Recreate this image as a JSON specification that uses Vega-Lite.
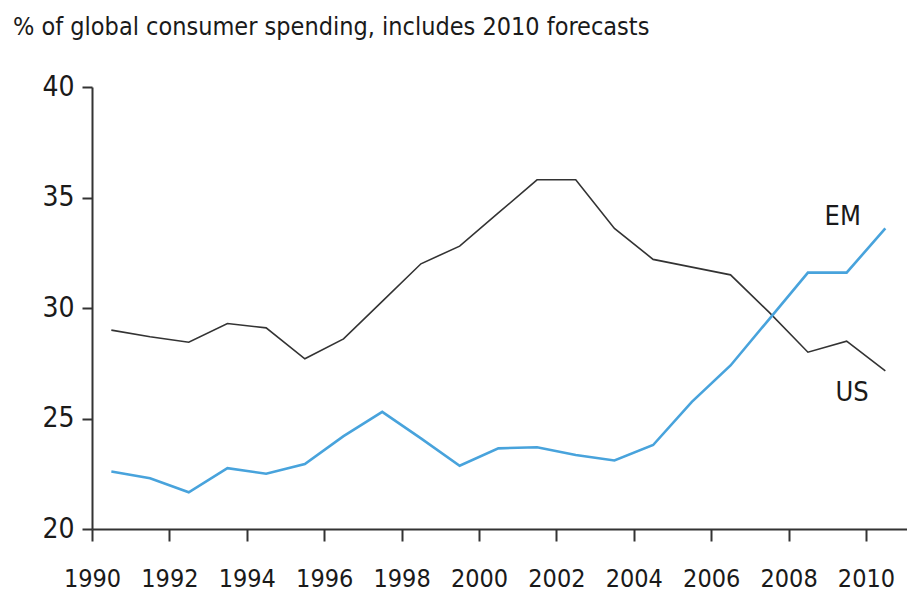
{
  "$schema": "https://vega.github.io/schema/vega-lite/v6.json",
  "width": 815,
  "height": 442,
  "autosize": "none",
  "padding": {"left": 92, "top": 87, "right": 0, "bottom": 69},
  "background": "white",
  "config": {
    "view": {"stroke": null},
    "font": "DejaVu Sans Condensed, sans-serif"
  },
  "title": {
    "text": "% of global consumer spending, includes 2010 forecasts",
    "anchor": "start",
    "frame": "group",
    "dx": -79,
    "offset": 33,
    "fontSize": 25,
    "fontWeight": "normal",
    "font": "DejaVu Sans Condensed, sans-serif",
    "color": "#1a1a1a"
  },
  "datasets": {
    "series": [
      {"series": "US", "year": 1990.5, "value": 29.0},
      {"series": "US", "year": 1991.5, "value": 28.7},
      {"series": "US", "year": 1992.5, "value": 28.45},
      {"series": "US", "year": 1993.5, "value": 29.3},
      {"series": "US", "year": 1994.5, "value": 29.1},
      {"series": "US", "year": 1995.5, "value": 27.7},
      {"series": "US", "year": 1996.5, "value": 28.6},
      {"series": "US", "year": 1997.5, "value": 30.3},
      {"series": "US", "year": 1998.5, "value": 32.0},
      {"series": "US", "year": 1999.5, "value": 32.8},
      {"series": "US", "year": 2000.5, "value": 34.3},
      {"series": "US", "year": 2001.5, "value": 35.8},
      {"series": "US", "year": 2002.5, "value": 35.8},
      {"series": "US", "year": 2003.5, "value": 33.6},
      {"series": "US", "year": 2004.5, "value": 32.2},
      {"series": "US", "year": 2005.5, "value": 31.85},
      {"series": "US", "year": 2006.5, "value": 31.5},
      {"series": "US", "year": 2007.5, "value": 29.8},
      {"series": "US", "year": 2008.5, "value": 28.0},
      {"series": "US", "year": 2009.5, "value": 28.5},
      {"series": "US", "year": 2010.5, "value": 27.15},
      {"series": "EM", "year": 1990.5, "value": 22.6},
      {"series": "EM", "year": 1991.5, "value": 22.3},
      {"series": "EM", "year": 1992.5, "value": 21.66},
      {"series": "EM", "year": 1993.5, "value": 22.75},
      {"series": "EM", "year": 1994.5, "value": 22.5},
      {"series": "EM", "year": 1995.5, "value": 22.94},
      {"series": "EM", "year": 1996.5, "value": 24.2},
      {"series": "EM", "year": 1997.5, "value": 25.3},
      {"series": "EM", "year": 1998.5, "value": 24.1},
      {"series": "EM", "year": 1999.5, "value": 22.86},
      {"series": "EM", "year": 2000.5, "value": 23.65},
      {"series": "EM", "year": 2001.5, "value": 23.7},
      {"series": "EM", "year": 2002.5, "value": 23.35},
      {"series": "EM", "year": 2003.5, "value": 23.1},
      {"series": "EM", "year": 2004.5, "value": 23.8},
      {"series": "EM", "year": 2005.5, "value": 25.75},
      {"series": "EM", "year": 2006.5, "value": 27.4},
      {"series": "EM", "year": 2007.5, "value": 29.5},
      {"series": "EM", "year": 2008.5, "value": 31.6},
      {"series": "EM", "year": 2009.5, "value": 31.6},
      {"series": "EM", "year": 2010.5, "value": 33.6}
    ],
    "labels": [
      {"series": "EM", "year": 2009.4, "value": 34.1},
      {"series": "US", "year": 2009.64, "value": 26.15}
    ]
  },
  "layer": [
    {
      "data": {"name": "series"},
      "mark": {"type": "line", "strokeJoin": "miter"},
      "encoding": {
        "x": {
          "field": "year",
          "type": "quantitative",
          "scale": {"domain": [1990, 2011.06], "nice": false, "zero": false},
          "axis": {
            "title": null,
            "values": [1990, 1992, 1994, 1996, 1998, 2000, 2002, 2004, 2006, 2008, 2010],
            "format": "d",
            "grid": false,
            "labelOverlap": false,
            "labelFlush": false,
            "domainColor": "#333333",
            "domainWidth": 2,
            "tickColor": "#333333",
            "tickWidth": 2,
            "tickSize": 12,
            "labelFontSize": 25,
            "labelColor": "#1a1a1a",
            "labelPadding": 25,
            "labelFont": "DejaVu Sans Condensed, sans-serif"
          }
        },
        "y": {
          "field": "value",
          "type": "quantitative",
          "scale": {"domain": [20, 40], "nice": false, "zero": false},
          "axis": {
            "title": null,
            "values": [20, 25, 30, 35, 40],
            "grid": false,
            "labelOverlap": false,
            "labelFlush": false,
            "domainColor": "#333333",
            "domainWidth": 2,
            "tickColor": "#333333",
            "tickWidth": 2,
            "tickSize": 10,
            "labelFontSize": 28,
            "labelColor": "#1a1a1a",
            "labelPadding": 8,
            "labelFont": "DejaVu Sans Condensed, sans-serif"
          }
        },
        "color": {
          "field": "series",
          "type": "nominal",
          "scale": {"domain": ["US", "EM"], "range": ["#333333", "#48a3dc"]},
          "legend": null
        },
        "strokeWidth": {
          "field": "series",
          "type": "nominal",
          "scale": {"domain": ["US", "EM"], "range": [1.6, 2.6]},
          "legend": null
        }
      }
    },
    {
      "data": {"name": "labels"},
      "mark": {
        "type": "text",
        "fontSize": 27,
        "color": "#1a1a1a",
        "align": "center",
        "baseline": "middle",
        "font": "DejaVu Sans Condensed, sans-serif"
      },
      "encoding": {
        "x": {"field": "year", "type": "quantitative"},
        "y": {"field": "value", "type": "quantitative"},
        "text": {"field": "series"}
      }
    }
  ]
}
